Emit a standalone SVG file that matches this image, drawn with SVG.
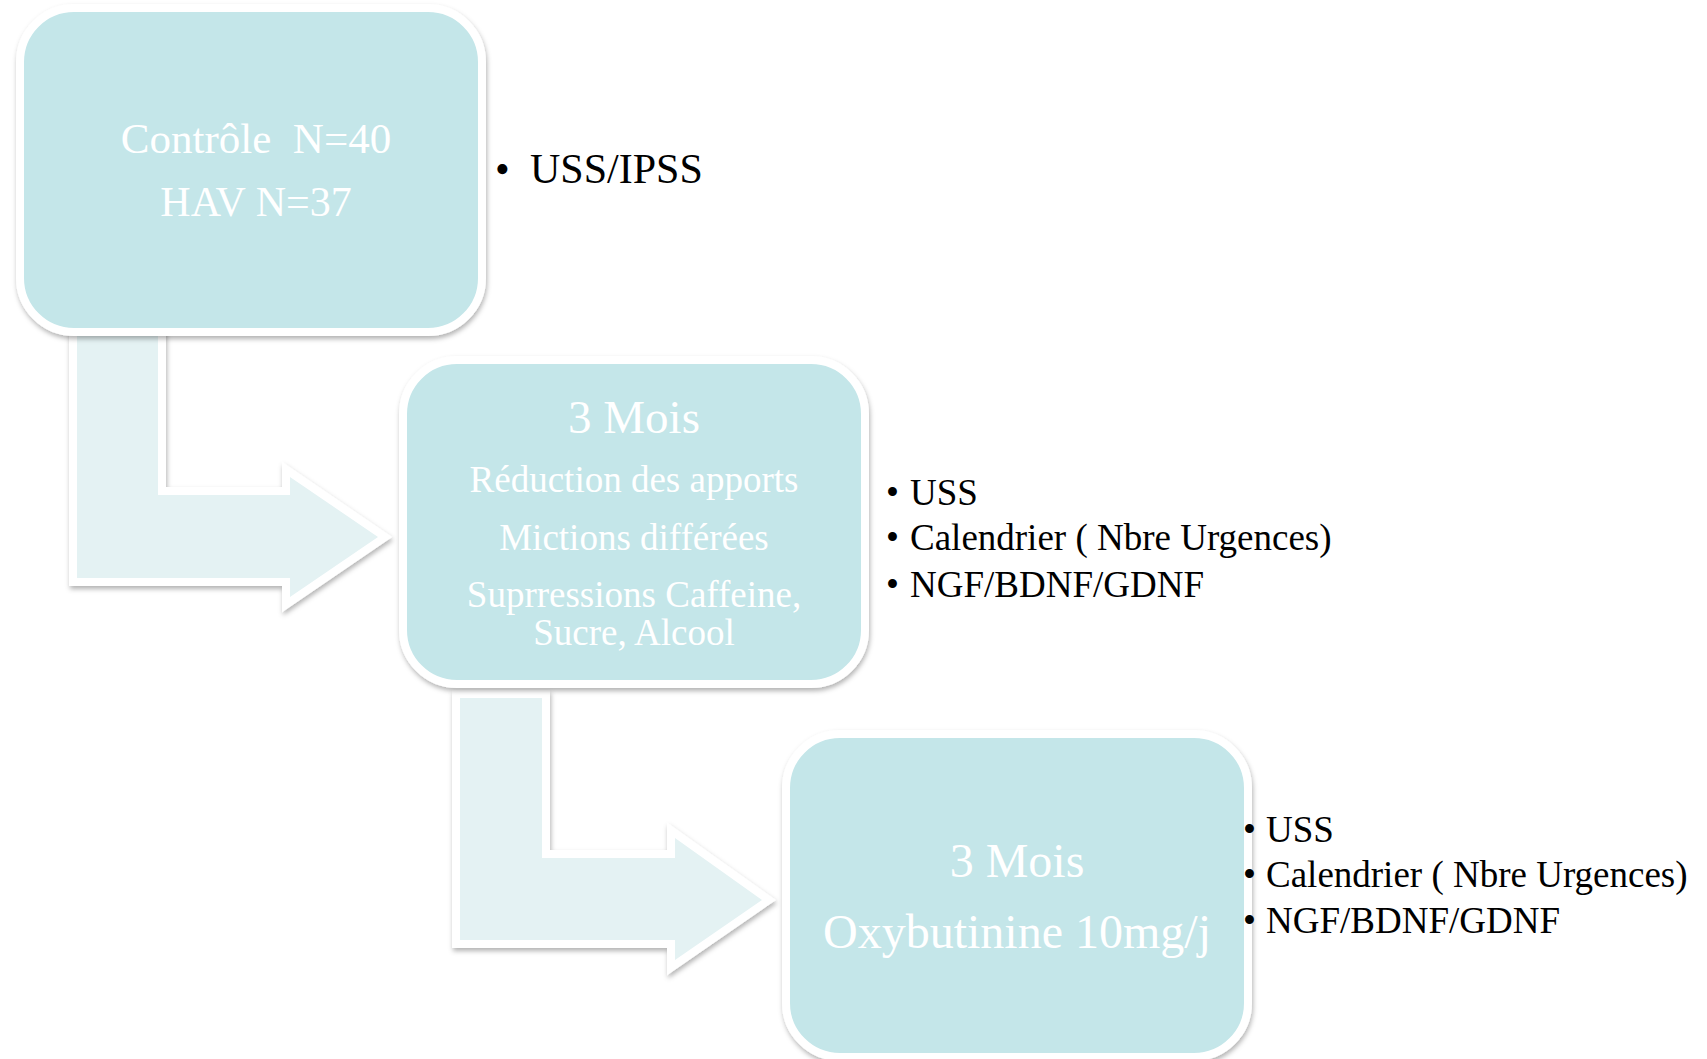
<svg xmlns="http://www.w3.org/2000/svg" width="1707" height="1059" viewBox="0 0 1707 1059">
<defs>
<filter id="sh" x="-10%" y="-10%" width="120%" height="125%">
<feDropShadow dx="1" dy="3" stdDeviation="2.5" flood-color="#000" flood-opacity="0.3"/>
</filter>
<style>
.box{fill:#C4E6E9;stroke:#FFFFFF;stroke-width:8;filter:url(#sh);}
.arr{fill:#E4F2F3;stroke:#FFFFFF;stroke-width:16;paint-order:stroke fill;stroke-linejoin:miter;filter:url(#sh);}
.wt{font-family:"Liberation Serif","Times New Roman",serif;fill:#FFFFFF;text-anchor:middle;}
.bt{font-family:"Liberation Serif","Times New Roman",serif;fill:#000000;font-size:37px;}
.bt42{font-family:"Liberation Serif","Times New Roman",serif;fill:#000000;font-size:42px;}
</style>
</defs>
<rect width="1707" height="1059" fill="#FFFFFF"/>
<g id="connectors">
<path class="arr" d="M77,330 L158,330 L158,495 L290,495 L290,477 L378,537 L290,597 L290,578 L77,578 Z"/>
<path class="arr" d="M460,698 L542,698 L542,858 L675,858 L675,838 L762,900 L675,960 L675,940 L460,940 Z"/>
</g>
<g id="node1">
<rect class="box" x="20" y="8" width="462" height="324" rx="54"/>
<text class="wt" x="256" y="153" font-size="43">Contrôle&#160; N=40</text>
<text class="wt" x="256" y="216" font-size="42">HAV N=37</text>
</g>
<g id="list1">
<text class="bt42" x="495" y="183">•</text>
<text class="bt42" x="530" y="183">USS/IPSS</text>
</g>
<g id="node2">
<rect class="box" x="403" y="360" width="462" height="324" rx="54"/>
<text class="wt" x="634" y="433" font-size="47">3 Mois</text>
<text class="wt" x="634" y="492" font-size="37">Réduction des apports</text>
<text class="wt" x="634" y="550" font-size="37">Mictions différées</text>
<text class="wt" x="634" y="607" font-size="37">Suprressions Caffeine,</text>
<text class="wt" x="634" y="645" font-size="37">Sucre, Alcool</text>
</g>
<g id="list2">
<text class="bt" x="886" y="505">•</text><text class="bt" x="910" y="505">USS</text>
<text class="bt" x="886" y="550">•</text><text class="bt" x="910" y="550">Calendrier ( Nbre Urgences)</text>
<text class="bt" x="886" y="597">•</text><text class="bt" x="910" y="597">NGF/BDNF/GDNF</text>
</g>
<g id="node3">
<rect class="box" x="786" y="734" width="462" height="323" rx="54"/>
<text class="wt" x="1017" y="877" font-size="48">3 Mois</text>
<text class="wt" x="1017" y="948" font-size="48">Oxybutinine 10mg/j</text>
</g>
<g id="list3">
<text class="bt" x="1243" y="842">•</text><text class="bt" x="1266" y="842">USS</text>
<text class="bt" x="1243" y="887">•</text><text class="bt" x="1266" y="887">Calendrier ( Nbre Urgences)</text>
<text class="bt" x="1243" y="933">•</text><text class="bt" x="1266" y="933">NGF/BDNF/GDNF</text>
</g>
</svg>
